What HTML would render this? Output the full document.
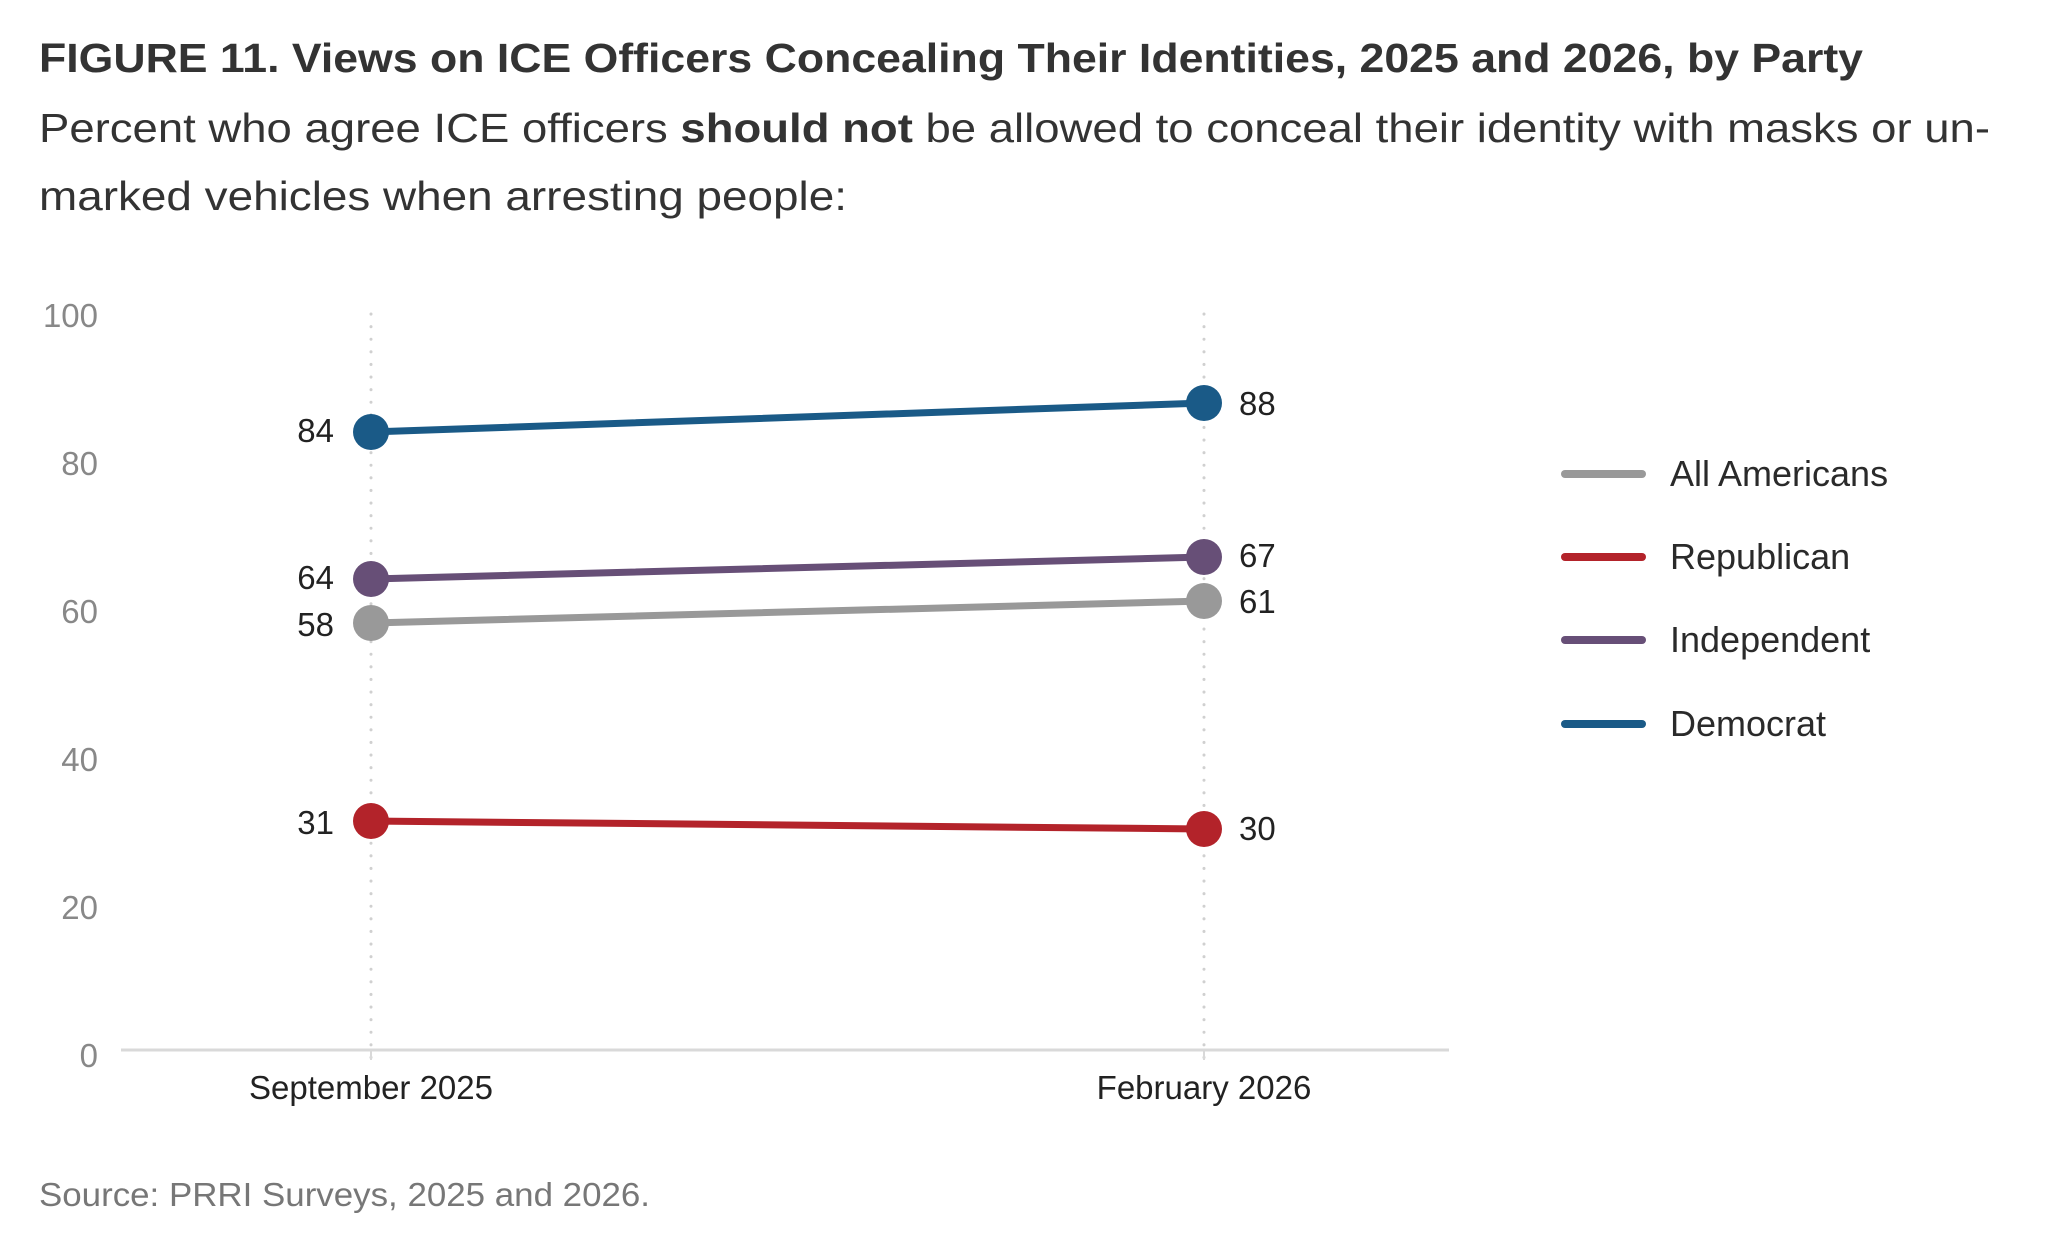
<!DOCTYPE html>
<html><head><meta charset="utf-8"><style>
html,body{margin:0;padding:0;background:#fff;}
body{width:2063px;height:1247px;overflow:hidden;font-family:"Liberation Sans",sans-serif;}
</style></head><body>
<svg width="2063" height="1247" xmlns="http://www.w3.org/2000/svg" font-family="Liberation Sans, sans-serif">
<text x="39" y="72" font-size="41" font-weight="bold" fill="#333" textLength="1824" lengthAdjust="spacingAndGlyphs">FIGURE 11.  Views on ICE Officers Concealing Their Identities, 2025 and 2026, by Party</text>
<text x="39" y="142" font-size="41" fill="#333" textLength="1951" lengthAdjust="spacingAndGlyphs">Percent who agree ICE officers <tspan font-weight="bold">should not</tspan> be allowed to conceal their identity with masks or un-</text>
<text x="39" y="210" font-size="41" fill="#333" textLength="808" lengthAdjust="spacingAndGlyphs">marked vehicles when arresting people:</text>
<g font-size="33" fill="#888" text-anchor="end">
<text x="98" y="327">100</text><text x="98" y="475">80</text><text x="98" y="623">60</text>
<text x="98" y="771">40</text><text x="98" y="919">20</text><text x="98" y="1067">0</text>
</g>
<g stroke="#d0d0d0" stroke-width="3" stroke-dasharray="0.1 12.5" stroke-linecap="round">
<line x1="371" y1="314" x2="371" y2="1060"/><line x1="1204" y1="314" x2="1204" y2="1060"/>
</g>
<line x1="121" y1="1050" x2="1449" y2="1050" stroke="#d9d9d9" stroke-width="3"/>
<line x1="371" y1="1050" x2="371" y2="1060" stroke="#d9d9d9" stroke-width="2"/>
<line x1="1204" y1="1050" x2="1204" y2="1060" stroke="#d9d9d9" stroke-width="2"/>
<g font-size="33" fill="#222" text-anchor="middle">
<text x="371" y="1099">September 2025</text><text x="1204" y="1099">February 2026</text>
</g>
<g stroke-width="7" stroke-linecap="round">
<line x1="371" y1="432" x2="1204" y2="403" stroke="#1a5a87"/>
<line x1="371" y1="579" x2="1204" y2="557" stroke="#674f77"/>
<line x1="371" y1="623" x2="1204" y2="601" stroke="#999"/>
<line x1="371" y1="821" x2="1204" y2="829" stroke="#b3232a"/>
</g>
<circle cx="371" cy="432" r="18" fill="#1a5a87"/><circle cx="1204" cy="403" r="18" fill="#1a5a87"/>
<circle cx="371" cy="579" r="18" fill="#674f77"/><circle cx="1204" cy="557" r="18" fill="#674f77"/>
<circle cx="371" cy="623" r="18" fill="#999"/><circle cx="1204" cy="601" r="18" fill="#999"/>
<circle cx="371" cy="821" r="18" fill="#b3232a"/><circle cx="1204" cy="829" r="18" fill="#b3232a"/>
<g font-size="33" fill="#222">
<g text-anchor="end">
<text x="334" y="442">84</text><text x="334" y="589">64</text><text x="334" y="636">58</text><text x="334" y="834">31</text>
</g>
<text x="1239" y="415">88</text><text x="1239" y="567">67</text><text x="1239" y="613">61</text><text x="1239" y="840">30</text>
</g>
<g stroke-width="8" stroke-linecap="round">
<line x1="1565" y1="474" x2="1642" y2="474" stroke="#999"/>
<line x1="1565" y1="557" x2="1642" y2="557" stroke="#b3232a"/>
<line x1="1565" y1="640" x2="1642" y2="640" stroke="#674f77"/>
<line x1="1565" y1="724" x2="1642" y2="724" stroke="#1a5a87"/>
</g>
<g font-size="36" fill="#2a2a2a">
<text x="1670" y="486">All Americans</text><text x="1670" y="569">Republican</text>
<text x="1670" y="652">Independent</text><text x="1670" y="736">Democrat</text>
</g>
<text x="39" y="1206" font-size="33" fill="#777" textLength="611" lengthAdjust="spacingAndGlyphs">Source: PRRI Surveys, 2025 and 2026.</text>
</svg>
</body></html>
